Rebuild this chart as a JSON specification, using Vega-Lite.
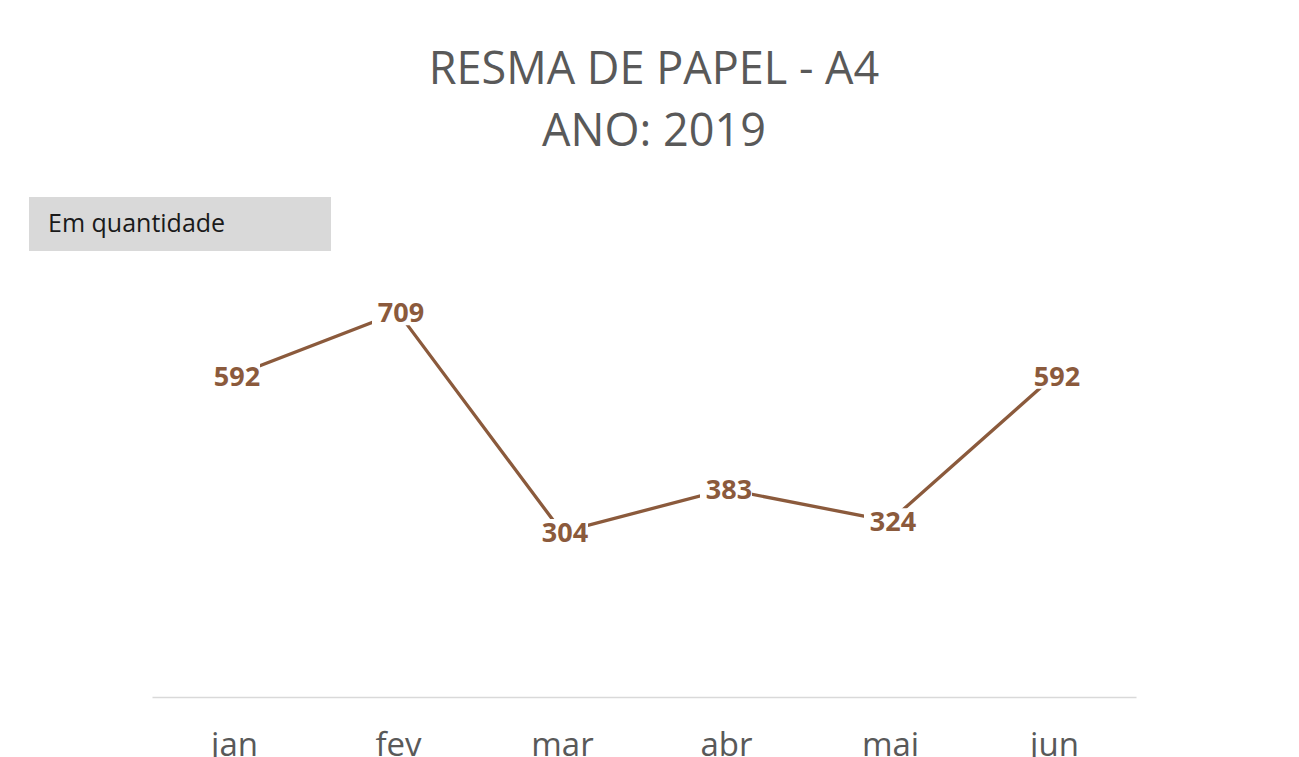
{
  "$schema": "https://vega.github.io/schema/vega-lite/v6.json",
  "width": 984,
  "height": 434,
  "autosize": {"type": "none"},
  "padding": {"left": 152, "right": 163, "top": 263, "bottom": 60},
  "background": "#ffffff",
  "config": {"view": {"stroke": null}},
  "title": {
    "text": ["RESMA DE PAPEL - A4", "ANO: 2019"],
    "anchor": "middle",
    "frame": "group",
    "dx": 10,
    "offset": 42,
    "fontSize": 45,
    "lineHeight": 62,
    "font": "Open Sans",
    "fontWeight": "normal",
    "color": "#595959"
  },
  "data": {
    "values": [
      {"mes": "jan", "valor": 592},
      {"mes": "fev", "valor": 709},
      {"mes": "mar", "valor": 304},
      {"mes": "abr", "valor": 383},
      {"mes": "mai", "valor": 324},
      {"mes": "jun", "valor": 592}
    ]
  },
  "encoding": {
    "x": {
      "field": "mes",
      "type": "ordinal",
      "sort": null,
      "title": null,
      "scale": {"type": "point", "padding": 0.5},
      "axis": {
        "domainColor": "#d9d9d9",
        "domainWidth": 1.5,
        "ticks": false,
        "tickSize": 0,
        "grid": false,
        "labelAngle": 0,
        "labelFont": "Open Sans",
        "labelFontSize": 33,
        "labelColor": "#595959",
        "labelBaseline": "alphabetic",
        "labelPadding": 58
      }
    },
    "y": {
      "field": "valor",
      "type": "quantitative",
      "scale": {"domain": [0, 800]},
      "axis": null
    }
  },
  "layer": [
    {
      "mark": {"type": "line", "strokeWidth": 3.3},
      "encoding": {
        "color": {
          "datum": "Em quantidade",
          "scale": {"range": ["#8B5A3C"]},
          "legend": {
            "orient": "none",
            "legendX": -123,
            "legendY": -66,
            "title": null,
            "fillColor": "#d9d9d9",
            "padding": 14,
            "symbolSize": 0,
            "symbolOpacity": 0,
            "symbolStrokeWidth": 0,
            "labelOffset": -20,
            "labelFont": "Open Sans",
            "labelFontSize": 25,
            "labelColor": "#1a1a1a",
            "labelLimit": 400,
            "labelExpr": "datum.label + '\u00a0\u00a0\u00a0\u00a0\u00a0\u00a0\u00a0\u00a0\u00a0\u00a0\u00a0\u00a0\u00a0\u00a0\u200b'"
          }
        }
      }
    },
    {
      "mark": {
        "type": "point",
        "shape": "M-1,-0.5H1V0.5H-1Z",
        "size": 2704,
        "filled": true,
        "fill": "#ffffff",
        "opacity": 1,
        "strokeWidth": 0
      }
    },
    {
      "mark": {
        "type": "text",
        "font": "Open Sans",
        "fontSize": 27,
        "fontWeight": "bold",
        "color": "#8B5A3C",
        "baseline": "middle",
        "dx": 3,
        "dy": 2
      },
      "encoding": {"text": {"field": "valor", "type": "quantitative"}}
    }
  ]
}
